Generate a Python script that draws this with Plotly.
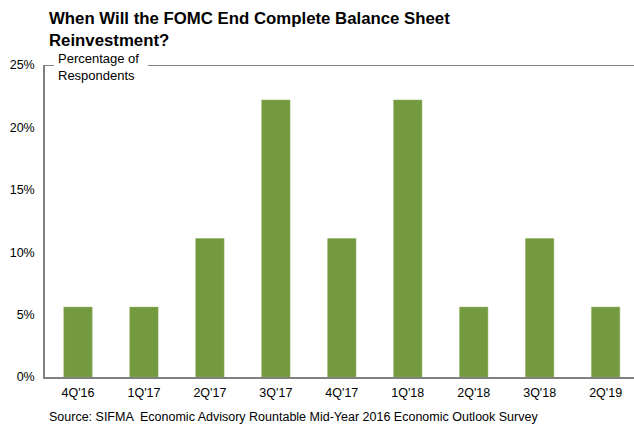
import plotly.graph_objects as go

# ── Data ──────────────────────────────────────────────────────────────────────
quarters = ["4Q'16", "1Q'17", "2Q'17", "3Q'17", "4Q'17", "1Q'18", "2Q'18", "3Q'18", "2Q'19"]
pct_respondents = [5.6, 5.6, 11.1, 22.2, 11.1, 22.2, 5.6, 11.1, 5.6]
y_ticks = [0, 5, 10, 15, 20, 25]
y_tick_labels = ["0%", "5%", "10%", "15%", "20%", "25%"]

BAR = "#739a3f"
AXIS = "#808080"
TEXT = "#000000"
FONT = "Liberation Sans, Arial, sans-serif"

PLOT_TOP, PLOT_H = 65, 312


def py(px_from_top):
    """Pixel row from top of page -> paper y coordinate."""
    return 1 + (PLOT_TOP - px_from_top) / PLOT_H


fig = go.Figure()
fig.add_trace(go.Bar(
    x=list(range(len(quarters))), y=pct_respondents,
    marker=dict(color=BAR, line=dict(color="#8fb060", width=0.5)),
    width=0.43,
    hoverinfo="skip",
))

fig.update_layout(
    width=634, height=424,
    paper_bgcolor="white", plot_bgcolor="white",
    font=dict(family=FONT, color=TEXT, size=12),
    margin=dict(l=45, r=0, t=PLOT_TOP, b=424 - PLOT_TOP - PLOT_H),
    showlegend=False,
)

fig.add_annotation(
    text="<b>When Will the FOMC End Complete Balance Sheet<br>Reinvestment?</b>",
    xref="paper", yref="paper", x=3 / 589, y=py(30),
    xanchor="left", yanchor="middle", align="left",
    showarrow=False, borderpad=0,
    font=dict(size=16.8, family=FONT, color=TEXT),
)

# cropped right edge: category spacing ~66px
fig.update_xaxes(
    range=[-0.5, 8.43],
    tickvals=list(range(len(quarters))), ticktext=quarters,
    showgrid=False, zeroline=False,
    showline=True, linecolor=AXIS, linewidth=1.5,
    ticks="", tickfont=dict(size=12.5), ticklabelstandoff=3,
)
fig.update_yaxes(
    range=[0, 25],
    tickvals=y_ticks, ticktext=y_tick_labels,
    showgrid=False, zeroline=False,
    showline=True, linecolor=AXIS, linewidth=1.5,
    ticks="", tickfont=dict(size=12.5), ticklabelstandoff=6,
)

# top border line at 25%
fig.add_shape(
    type="line", xref="paper", yref="y",
    x0=0, x1=1, y0=25, y1=25,
    line=dict(color="#595959", width=1.5),
)

# axis title sitting on the top line; white box hides the line behind it
fig.add_shape(
    type="rect", xref="paper", yref="paper",
    x0=9 / 589, x1=103 / 589, y0=py(69), y1=py(61),
    fillcolor="white", line=dict(width=0), layer="above",
)
fig.add_annotation(
    text="Percentage of<br>Respondents",
    xref="paper", yref="paper", x=12 / 589, y=py(67),
    xanchor="left", yanchor="middle", align="left",
    showarrow=False, borderpad=0,
    font=dict(size=13, color=TEXT),
)

fig.add_annotation(
    text="Source: SIFMA  Economic Advisory Rountable Mid-Year 2016 Economic Outlook Survey",
    xref="paper", yref="paper", x=2 / 589, y=py(417),
    xanchor="left", yanchor="middle", align="left",
    showarrow=False,
    font=dict(size=12.5, color=TEXT),
)

fig.write_html(
    "out.html",
    config={"displayModeBar": False},
    post_script="document.body.style.margin='0';",
)
